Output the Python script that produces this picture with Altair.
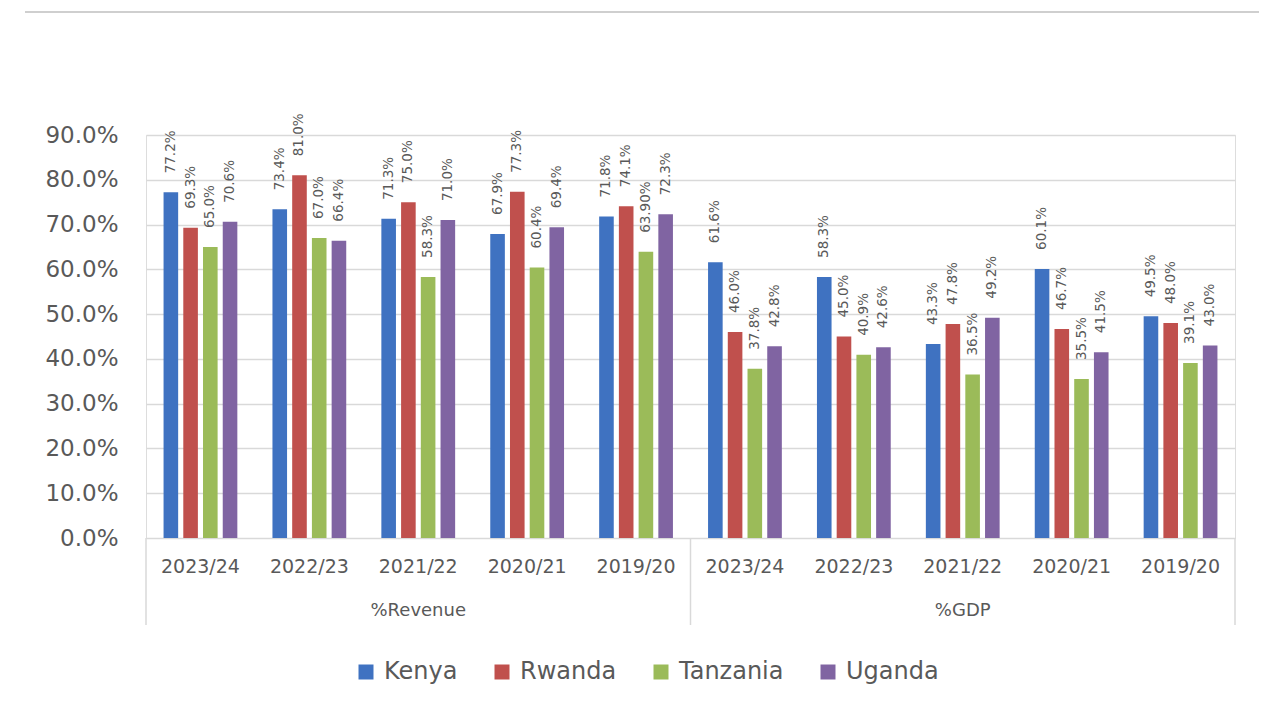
import altair as alt
import pandas as pd

countries = ["Kenya", "Rwanda", "Tanzania", "Uganda"]
groups = ["%Revenue", "%GDP"]
years = ["2023/24", "2022/23", "2021/22", "2020/21", "2019/20"]

kenya_rev = [77.2, 73.4, 71.3, 67.9, 71.8]
rwanda_rev = [69.3, 81.0, 75.0, 77.3, 74.1]
tanzania_rev = [65.0, 67.0, 58.3, 60.4, 63.9]
uganda_rev = [70.6, 66.4, 71.0, 69.4, 72.3]

kenya_gdp = [61.6, 58.3, 43.3, 60.1, 49.5]
rwanda_gdp = [46.0, 45.0, 47.8, 46.7, 48.0]
tanzania_gdp = [37.8, 40.9, 36.5, 35.5, 39.1]
uganda_gdp = [42.8, 42.6, 49.2, 41.5, 43.0]

label_overrides = {("%Revenue", "2019/20", "Tanzania"): "63.90%"}

colors = ["#3f72c1", "#c0504d", "#9bbb59", "#8064a2"]
TXT = "#595959"
GRID = "#d9d9d9"
FONT = "DejaVu Sans"

series = {
    "%Revenue": [kenya_rev, rwanda_rev, tanzania_rev, uganda_rev],
    "%GDP": [kenya_gdp, rwanda_gdp, tanzania_gdp, uganda_gdp],
}

keys = [f"{g}|{y}" for g in groups for y in years]

rows = []
for g in groups:
    for ci, c in enumerate(countries):
        for yi, y in enumerate(years):
            v = series[g][ci][yi]
            lab = label_overrides.get((g, y, c), f"{v:.1f}%")
            rows.append({"key": f"{g}|{y}", "group": g, "year": y,
                         "country": c, "value": v / 100, "label": lab})
df = pd.DataFrame(rows)

group_df = pd.DataFrame({"key": [f"{g}|{years[2]}" for g in groups], "text": groups})
sep_start = pd.DataFrame({"key": [f"{g}|{years[0]}" for g in groups]})
sep_end = pd.DataFrame({"key": [f"{groups[-1]}|{years[-1]}"]})
one = pd.DataFrame({"a": [0]})

xscale = alt.Scale(domain=keys, paddingInner=0, paddingOuter=0)
x_main = alt.X(
    "key:N", scale=xscale, sort=keys,
    axis=alt.Axis(title=None, labelExpr="split(datum.label, '|')[1]", labelAngle=0,
                  labelFontSize=19, labelFont=FONT, labelColor=TXT, labelPadding=19,
                  ticks=False, domain=False, grid=False),
)
xoff = alt.XOffset("country:N", sort=countries,
                   scale=alt.Scale(paddingInner=0.26, paddingOuter=0.89))
y_main = alt.Y(
    "value:Q", scale=alt.Scale(domain=[0, 0.9], nice=False),
    axis=alt.Axis(title=None, format=".1%", values=[i / 10 for i in range(10)],
                  labelFontSize=23, labelFont=FONT, labelColor=TXT, labelPadding=28,
                  ticks=False, domain=False, gridColor=GRID, gridWidth=1.5),
)

bars = alt.Chart(df).mark_bar().encode(
    x=x_main, xOffset=xoff, y=y_main,
    color=alt.Color("country:N", sort=countries,
                    scale=alt.Scale(domain=countries, range=colors),
                    legend=alt.Legend(orient="none", legendX=208, legendY=525,
                                      direction="horizontal", title=None,
                                      symbolType="square", symbolSize=225,
                                      symbolStrokeWidth=0, symbolOpacity=1,
                                      labelFontSize=24, labelFont=FONT,
                                      labelColor=TXT, labelOffset=6,
                                      columnPadding=32)),
)

labels = alt.Chart(df).mark_text(
    angle=270, align="left", baseline="middle", dx=19,
    fontSize=13.5, font=FONT, color=TXT,
).encode(x=alt.X("key:N", sort=keys), xOffset=xoff, y="value:Q", text="label:N")

group_labels = alt.Chart(group_df).mark_text(
    fontSize=18, font=FONT, color=TXT, align="center", baseline="middle",
).encode(x=alt.X("key:N", sort=keys), y=alt.value(476), text="text:N")

seps_a = alt.Chart(sep_start).mark_rule(color=GRID, strokeWidth=1.5).encode(
    x=alt.X("key:N", sort=keys, bandPosition=0), y=alt.value(403), y2=alt.value(490))
seps_b = alt.Chart(sep_end).mark_rule(color=GRID, strokeWidth=1.5).encode(
    x=alt.X("key:N", sort=keys, bandPosition=1), y=alt.value(403), y2=alt.value(490))

top_line = alt.Chart(one).mark_rule(color="#cfcfcf", strokeWidth=2).encode(
    x=alt.value(-121), x2=alt.value(1113), y=alt.value(-123))

chart = alt.layer(bars, labels, group_labels, seps_a, seps_b, top_line).properties(
    width=1089, height=403,
    padding={"left": 138, "top": 127, "right": 24, "bottom": 160},
    autosize=alt.AutoSizeParams(type="none"),
).configure_view(stroke=None).configure(background="white")

chart.save("out.html", embed_options={"renderer": "svg", "actions": False})
